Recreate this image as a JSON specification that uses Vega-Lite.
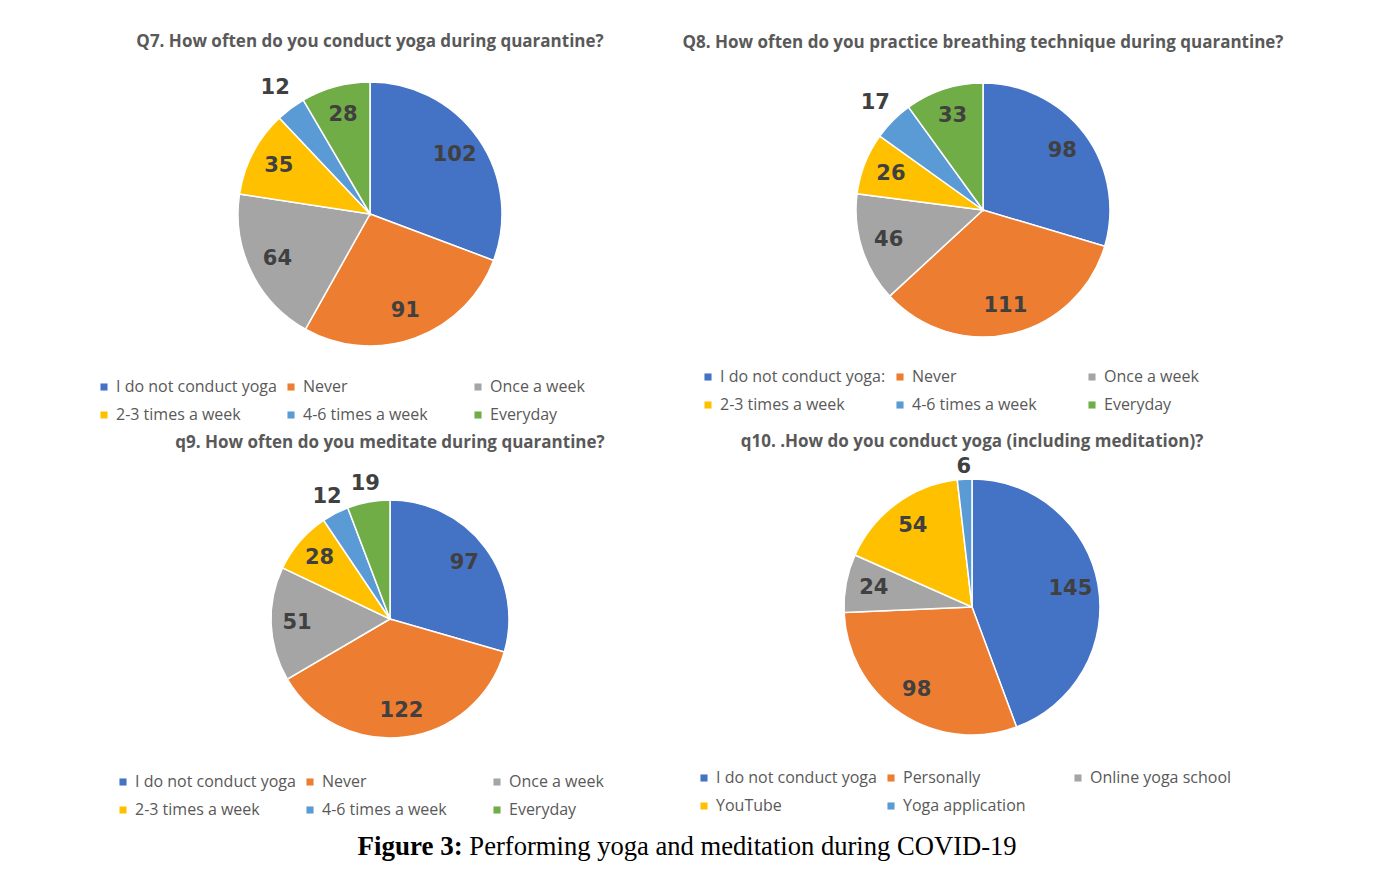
{
  "$schema": "https://vega.github.io/schema/vega-lite/v6.json",
  "padding": {"left": 90, "top": 32, "right": 0, "bottom": 0},
  "background": "white",
  "title": {"text": "Figure 3:", "orient": "bottom", "anchor": "middle", "font": "Liberation Serif", "fontSize": 27, "fontWeight": "bold", "color": "#000000", "offset": -27, "dx": -283},
  "datasets": {
    "q7": [
      {"cat": "I do not conduct yoga", "v": 102, "k": 1},
      {"cat": "Never", "v": 91, "k": 2},
      {"cat": "Once a week", "v": 64, "k": 3},
      {"cat": "2-3 times a week", "v": 35, "k": 4},
      {"cat": "4-6 times a week", "v": 12, "k": 5},
      {"cat": "Everyday", "v": 28, "k": 6}
    ],
    "q8": [
      {"cat": "I do not conduct yoga:", "v": 98, "k": 1},
      {"cat": "Never", "v": 111, "k": 2},
      {"cat": "Once a week", "v": 46, "k": 3},
      {"cat": "2-3 times a week", "v": 26, "k": 4},
      {"cat": "4-6 times a week", "v": 17, "k": 5},
      {"cat": "Everyday", "v": 33, "k": 6}
    ],
    "q9": [
      {"cat": "I do not conduct yoga", "v": 97, "k": 1},
      {"cat": "Never", "v": 122, "k": 2},
      {"cat": "Once a week", "v": 51, "k": 3},
      {"cat": "2-3 times a week", "v": 28, "k": 4},
      {"cat": "4-6 times a week", "v": 12, "k": 5},
      {"cat": "Everyday", "v": 19, "k": 6}
    ],
    "q10": [
      {"cat": "I do not conduct yoga", "v": 145, "k": 1},
      {"cat": "Personally", "v": 98, "k": 2},
      {"cat": "Online yoga school", "v": 24, "k": 3},
      {"cat": "YouTube", "v": 54, "k": 4},
      {"cat": "Yoga application", "v": 6, "k": 5}
    ]
  },
  "vconcat": [
    {
      "title": {"text": "Performing yoga and meditation during COVID-19", "orient": "bottom", "anchor": "middle", "font": "Liberation Serif", "fontSize": 26.6, "fontWeight": "normal", "color": "#000000", "offset": 16, "dx": 50},
      "spacing": 10,
      "vconcat": [
        {
          "bounds": "flush",
          "spacing": 20,
          "hconcat": [
            {
              "width": 560, "height": 284,
              "data": {"name": "q7"},
              "title": {"text": "Q7. How often do you conduct yoga during quarantine?", "font": "Open Sans", "fontSize": 17, "fontWeight": "bold", "color": "#595959", "anchor": "middle", "offset": 0},
              "encoding": {
                "theta": {"field": "v", "type": "quantitative", "stack": true},
                "order": {"field": "k", "type": "quantitative"}
              },
              "layer": [
                {"mark": {"type": "arc", "outerRadius": 132, "stroke": "white", "strokeWidth": 1.5},
                 "encoding": {"color": {"field": "cat", "type": "nominal",
                   "scale": {"domain": ["I do not conduct yoga", "Never", "Once a week", "2-3 times a week", "4-6 times a week", "Everyday"], "range": ["#4472C4", "#ED7D31", "#A5A5A5", "#FFC000", "#5B9BD5", "#70AD47"]},
                   "legend": {"orient": "none", "legendX": 6, "legendY": 307}}}},
                {"mark": {"type": "text", "radius": 103, "font": "DejaVu Sans", "fontWeight": "bold", "fontSize": 21, "color": "#404040"},
                 "encoding": {"text": {"condition": {"test": "datum.v < 20", "value": ""}, "field": "v", "type": "quantitative"}}},
                {"mark": {"type": "text", "radius": 158, "font": "DejaVu Sans", "fontWeight": "bold", "fontSize": 21, "color": "#404040"},
                 "encoding": {"text": {"condition": {"test": "datum.v >= 20", "value": ""}, "field": "v", "type": "quantitative"}}}
              ]
            },
            {
              "width": 626, "height": 276,
              "data": {"name": "q8"},
              "title": {"text": "Q8. How often do you practice breathing technique during quarantine?", "font": "Open Sans", "fontSize": 17, "fontWeight": "bold", "color": "#595959", "anchor": "middle", "offset": 2},
              "encoding": {
                "theta": {"field": "v", "type": "quantitative", "stack": true},
                "order": {"field": "k", "type": "quantitative"}
              },
              "layer": [
                {"mark": {"type": "arc", "outerRadius": 127, "stroke": "white", "strokeWidth": 1.5},
                 "encoding": {"color": {"field": "cat", "type": "nominal",
                   "scale": {"domain": ["I do not conduct yoga:", "Never", "Once a week", "2-3 times a week", "4-6 times a week", "Everyday"], "range": ["#4472C4", "#ED7D31", "#A5A5A5", "#FFC000", "#5B9BD5", "#70AD47"]},
                   "legend": {"orient": "none", "legendX": 30, "legendY": 297}}}},
                {"mark": {"type": "text", "radius": 99, "font": "DejaVu Sans", "fontWeight": "bold", "fontSize": 21, "color": "#404040"},
                 "encoding": {"text": {"condition": {"test": "datum.v < 20", "value": ""}, "field": "v", "type": "quantitative"}}},
                {"mark": {"type": "text", "radius": 152, "font": "DejaVu Sans", "fontWeight": "bold", "fontSize": 21, "color": "#404040"},
                 "encoding": {"text": {"condition": {"test": "datum.v >= 20", "value": ""}, "field": "v", "type": "quantitative"}}}
              ]
            }
          ],
          "resolve": {"scale": {"color": "independent", "theta": "independent"}, "legend": {"color": "independent"}}
        },
        {
          "bounds": "flush",
          "spacing": 20,
          "hconcat": [
            {
              "width": 600, "height": 290,
              "data": {"name": "q9"},
              "title": {"text": "q9. How often do you meditate during quarantine?", "font": "Open Sans", "fontSize": 17, "fontWeight": "bold", "color": "#595959", "anchor": "middle", "offset": 21},
              "encoding": {
                "theta": {"field": "v", "type": "quantitative", "stack": true},
                "order": {"field": "k", "type": "quantitative"}
              },
              "layer": [
                {"mark": {"type": "arc", "outerRadius": 119, "stroke": "white", "strokeWidth": 1.5},
                 "encoding": {"color": {"field": "cat", "type": "nominal",
                   "scale": {"domain": ["I do not conduct yoga", "Never", "Once a week", "2-3 times a week", "4-6 times a week", "Everyday"], "range": ["#4472C4", "#ED7D31", "#A5A5A5", "#FFC000", "#5B9BD5", "#70AD47"]},
                   "legend": {"orient": "none", "legendX": 25, "legendY": 300}}}},
                {"mark": {"type": "text", "radius": 93, "font": "DejaVu Sans", "fontWeight": "bold", "fontSize": 21, "color": "#404040"},
                 "encoding": {"text": {"condition": {"test": "datum.v < 20", "value": ""}, "field": "v", "type": "quantitative"}}},
                {"mark": {"type": "text", "radius": 137, "font": "DejaVu Sans", "fontWeight": "bold", "fontSize": 21, "color": "#404040"},
                 "encoding": {"text": {"condition": {"test": "datum.v >= 20", "value": ""}, "field": "v", "type": "quantitative"}}}
              ]
            },
            {
              "width": 524, "height": 266,
              "data": {"name": "q10"},
              "title": {"text": "q10. .How do you conduct yoga (including meditation)?", "font": "Open Sans", "fontSize": 17, "fontWeight": "bold", "color": "#595959", "anchor": "middle", "offset": 5},
              "encoding": {
                "theta": {"field": "v", "type": "quantitative", "stack": true},
                "order": {"field": "k", "type": "quantitative"}
              },
              "layer": [
                {"mark": {"type": "arc", "outerRadius": 128, "stroke": "white", "strokeWidth": 1.5},
                 "encoding": {"color": {"field": "cat", "type": "nominal",
                   "scale": {"domain": ["I do not conduct yoga", "Personally", "Online yoga school", "YouTube", "Yoga application"], "range": ["#4472C4", "#ED7D31", "#A5A5A5", "#FFC000", "#5B9BD5"]},
                   "legend": {"orient": "none", "legendX": -14, "legendY": 296}}}},
                {"mark": {"type": "text", "radius": 100, "font": "DejaVu Sans", "fontWeight": "bold", "fontSize": 21, "color": "#404040"},
                 "encoding": {"text": {"condition": {"test": "datum.v < 20", "value": ""}, "field": "v", "type": "quantitative"}}},
                {"mark": {"type": "text", "radius": 140, "font": "DejaVu Sans", "fontWeight": "bold", "fontSize": 21, "color": "#404040"},
                 "encoding": {"text": {"condition": {"test": "datum.v >= 20", "value": ""}, "field": "v", "type": "quantitative"}}}
              ]
            }
          ],
          "resolve": {"scale": {"color": "independent", "theta": "independent"}, "legend": {"color": "independent"}}
        }
      ],
      "resolve": {"scale": {"color": "independent", "theta": "independent"}, "legend": {"color": "independent"}}
    }
  ],
  "resolve": {"scale": {"color": "independent", "theta": "independent"}, "legend": {"color": "independent"}},
  "config": {
    "view": {"stroke": null},
    "legend": {"direction": "horizontal", "columns": 3, "gridAlign": "all", "columnPadding": 6, "rowPadding": 12, "symbolType": "square", "symbolSize": 50, "symbolStrokeWidth": 0, "labelFont": "Open Sans", "labelFontSize": 16, "labelColor": "#595959", "labelLimit": 400, "title": null, "padding": 0}
  }
}
